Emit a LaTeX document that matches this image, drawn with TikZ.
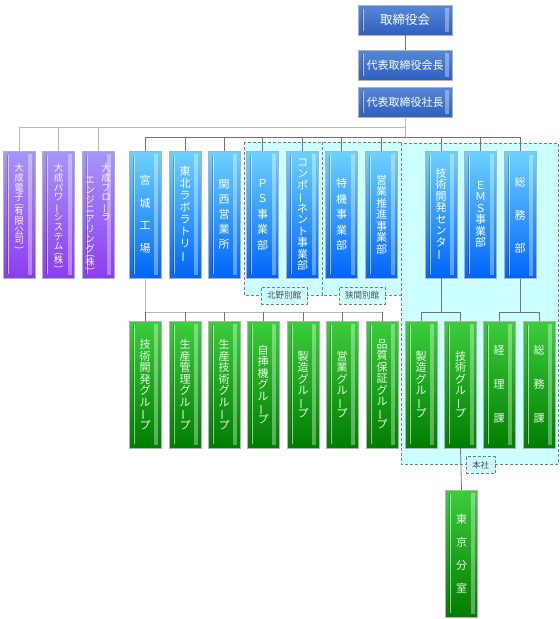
\documentclass[tikz,border=0pt]{standalone}
\usepackage{fontspec}
\setmainfont{Noto Sans CJK JP}
\usepackage{graphicx}
\usetikzlibrary{calc}

\definecolor{topA}{RGB}{86,136,216}
\definecolor{topB}{RGB}{46,96,190}
\definecolor{purA}{RGB}{168,150,250}
\definecolor{purB}{RGB}{140,60,240}
\definecolor{bluA}{RGB}{110,210,255}
\definecolor{bluB}{RGB}{0,100,250}
\definecolor{grnA}{RGB}{60,205,60}
\definecolor{grnB}{RGB}{0,125,0}
\definecolor{areafill}{RGB}{204,255,255}
\definecolor{areaedge}{RGB}{100,130,175}

% vertical text helpers
\newcommand\vcol[2]{\vtop{\hsize=12pt\parindent=0pt\centering\baselineskip=#1\relax\lineskiplimit=-\maxdimen\lineskip=0pt #2\par}}
\newcommand\vb{\rotatebox[origin=c]{90}{ー}}
\newcommand\vp[1]{\rotatebox[origin=c]{-90}{#1}}

\tikzstyle{bevel}=[path picture={
    \fill[white,opacity=.35] ([xshift=-7pt,yshift=-3pt]path picture bounding box.north east) rectangle ([xshift=-3pt,yshift=3pt]path picture bounding box.south east);
    \draw[black,opacity=.2,line width=.7pt] ([xshift=4pt,yshift=-4pt]path picture bounding box.north west) -- ([xshift=4pt,yshift=4pt]path picture bounding box.south west);
    \draw[white,opacity=.6,line width=.7pt] ([xshift=5pt,yshift=-4pt]path picture bounding box.north west) -- ([xshift=5pt,yshift=4pt]path picture bounding box.south west);}]
\tikzstyle{topbox}=[rectangle,draw=black!30,top color=topA,bottom color=topB,text=white,minimum width=94pt,minimum height=30pt,inner sep=1pt,bevel,font={\fontsize{11pt}{12pt}\selectfont}]
\tikzstyle{unitbox}=[rectangle,draw=black!30,minimum width=32pt,minimum height=127pt,inner sep=2pt,text=white,bevel,font={\fontsize{11pt}{12pt}\selectfont}]
\tikzstyle{corpbox}=[unitbox,top color=purA,bottom color=purB,text=white!92!purA,font={\fontsize{9.5pt}{10pt}\selectfont},text height=18pt,text depth=104pt]
\tikzstyle{deptbox}=[unitbox,top color=bluA,bottom color=bluB]
\tikzstyle{groupbox}=[unitbox,top color=grnA,bottom color=grnB,text=white!92!grnA]
\tikzstyle{area}=[draw=areaedge,fill=areafill,dash pattern=on 3pt off 2pt,line width=.8pt]
\tikzstyle{tag}=[rectangle,draw=areaedge,fill=areafill,dash pattern=on 3pt off 2pt,line width=.8pt,text=black!70,font={\fontsize{8.5pt}{9pt}\selectfont},minimum height=17pt,inner sep=1pt]
\tikzstyle{link}=[draw,black!55,line width=.8pt]
\tikzstyle{faintlink}=[draw,black!28,line width=.8pt]

\begin{document}
\begin{tikzpicture}[x=1pt,y=-1pt]
    \useasboundingbox (0,0) rectangle (560,619);

    % sites
    \draw[area] (244,142) rectangle (322,295);
    \draw[area] (322,142) rectangle (401,295);
    \draw[area] (401,143) rectangle (558,464);

    \foreach \pos/ \name/ \txt in {{(405,20)/board/{\fontsize{12.5pt}{13pt}\selectfont 取締役会}}, {(405,65)/chair/代表取締役会長}, {(405,102)/pres/代表取締役社長}}
        \node[topbox] (\name) at \pos {\txt};

    \node[corpbox] (p1) at (19,214.5) {\vcol{9.8pt}{大\\成\\電\\子\\[-3pt]\vp{(}\\[-3pt]有\\限\\公\\司\\[-3pt]\vp{)}}};
    \node[corpbox] (p2) at (58.5,214.5) {\vcol{9.8pt}{大\\成\\パ\\ワ\\\vb\\シ\\ス\\テ\\ム\\[-3pt]\vp{(}\\[-3pt]株\\[-3pt]\vp{)}}};
    \node[corpbox] (p3) at (98,214.5) {\lower12pt\vcol{9.8pt}{エ\\ン\\ジ\\ニ\\ア\\リ\\ン\\グ\\[-3pt]\vp{(}\\[-3pt]株\\[-3pt]\vp{)}}\hspace{4pt}\vcol{9.8pt}{大\\成\\フ\\ロ\\\vb\\ラ}};

    \foreach \pos/ \name/ \gap/ \txt in {{(145,214.5)/b1/22.5pt/{宮\\城\\工\\場}}, {(185,214.5)/b2/12pt/{東\\北\\ラ\\ボ\\ラ\\ト\\リ\\\vb}},
        {(224,214.5)/b3/15pt/{関\\西\\営\\業\\所}}, {(262.5,214.5)/b4/15.5pt/{Ｐ\\Ｓ\\事\\業\\部}},
        {(302.5,214.5)/b5/11.5pt/{コ\\ン\\ポ\\\vb\\ネ\\ン\\ト\\事\\業\\部}}, {(341.5,214.5)/b6/15.5pt/{特\\機\\事\\業\\部}},
        {(381.5,214.5)/b7/11.5pt/{営\\業\\推\\進\\事\\業\\部}}, {(441,214.5)/b8/11.5pt/{技\\術\\開\\発\\セ\\ン\\タ\\\vb}},
        {(480.5,214.5)/b9/11.5pt/{Ｅ\\Ｍ\\Ｓ\\事\\業\\部}}, {(520,215)/b10/33pt/{総\\務\\部}}}
        \node[deptbox] (\name) at \pos {\vcol{\gap}{\txt}};

    \foreach \pos/ \name/ \gap/ \txt in {{(145,384.5)/g1/11.5pt/{技\\術\\開\\発\\グ\\ル\\\vb\\プ}}, {(185,384.5)/g2/11.5pt/{生\\産\\管\\理\\グ\\ル\\\vb\\プ}},
        {(224,384.5)/g3/11.5pt/{生\\産\\技\\術\\グ\\ル\\\vb\\プ}}, {(263,384.5)/g4/11.5pt/{自\\挿\\機\\グ\\ル\\\vb\\プ}},
        {(303,384.5)/g5/11.5pt/{製\\造\\グ\\ル\\\vb\\プ}}, {(342,384.5)/g6/11.5pt/{営\\業\\グ\\ル\\\vb\\プ}},
        {(382,384.5)/g7/11.5pt/{品\\質\\保\\証\\グ\\ル\\\vb\\プ}}, {(421,384.5)/h1/11.5pt/{製\\造\\グ\\ル\\\vb\\プ}},
        {(460.5,384.5)/h2/11.5pt/{技\\術\\グ\\ル\\\vb\\プ}}, {(499,384.5)/h3/34pt/{経\\理\\課}},
        {(539,384.5)/h4/34pt/{総\\務\\課}}, {(461.5,553.5)/tokyo/23pt/{東\\京\\分\\室}}}
        \node[groupbox] (\name) at \pos {\vcol{\gap}{\txt}};

    % buses
    \coordinate (corpbus) at (405,127);
    \coordinate (deptbus) at (405,137);
    \coordinate (grpbus) at (0,312);

    \draw[link] (board) -- (chair);
    \draw[faintlink] (pres.south) -- (deptbus);
    \draw[faintlink] (corpbus) -- (corpbus -| p1.north);
    \foreach \n in {p1,p2,p3}
        \draw[faintlink] (\n.north |- corpbus) -- (\n.north);
    \draw[link] (deptbus -| b1.north) -- (deptbus -| b10.north);
    \foreach \i in {1,...,10}
        \draw[link] (b\i.north |- deptbus) -- (b\i.north);

    \draw[faintlink] (b1.south) -- (b1.south |- grpbus) -- (g7.north |- grpbus);
    \foreach \i in {1,...,7}
        \draw[link] (g\i.north |- grpbus) -- (g\i.north);
    \draw[link] (b8.south) -- (b8.south |- grpbus);
    \draw[link] (h1.north) |- (h2.north |- grpbus) -- (h2.north);
    \draw[link] (b10.south) -- (b10.south |- grpbus);
    \draw[link] (h3.north) |- (h4.north |- grpbus) -- (h4.north);
    \draw[link] (h2.south) -- (tokyo.north);

    \node[tag,minimum width=46pt] (kitano) at (284,295.5) {北野別館};
    \node[tag,minimum width=46pt] (hazama) at (362,295.5) {狭間別館};
    \node[tag,minimum width=29pt] (honsha) at (480.5,465) {本社};

\end{tikzpicture}
\end{document}
